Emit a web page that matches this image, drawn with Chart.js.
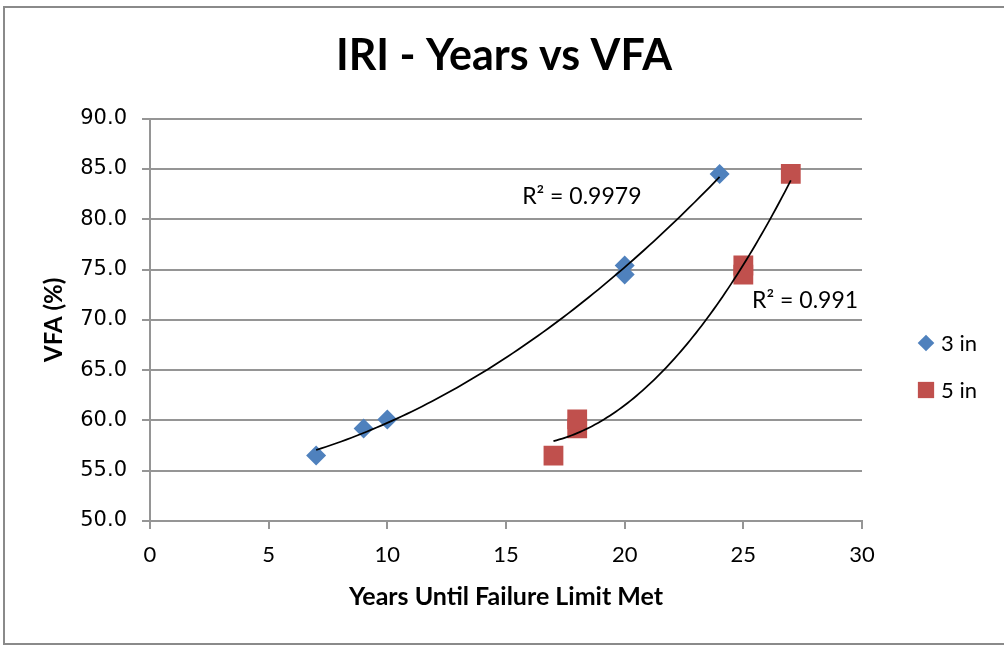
<!DOCTYPE html>
<html>
<head>
<meta charset="utf-8">
<title>IRI - Years vs VFA</title>
<script src="https://cdn.jsdelivr.net/npm/chart.js@4.4.1/dist/chart.umd.min.js"></script>
<style>
  html, body { margin: 0; padding: 0; background: #fff; }
  #wrap { position: relative; width: 1004px; height: 649px; }
</style>
</head>
<body>
<div id="wrap"><canvas id="vfaChart" width="1004" height="649"></canvas></div>
<script>
// values
const seriesNames = ['3 in', '5 in'];
const years3in = [7, 9, 10, 20, 20, 24];
const vfa3in = [56.5, 59.2, 60.1, 75.4, 74.5, 84.5];
const years5in = [17, 18, 18, 25, 25, 27];
const vfa5in = [56.5, 59.2, 60.1, 75.4, 74.5, 84.5];
const r2Labels = ['R² = 0.9979', 'R² = 0.991'];
const xTicks = [0, 5, 10, 15, 20, 25, 30];
const yTicks = [50, 55, 60, 65, 70, 75, 80, 85, 90];

// where the R² text sits, in axis units (left edge, baseline)
const r2Anchors = [{ x: 15.68, y: 81.54 }, { x: 25.37, y: 71.19 }];

const blue = '#4F81BD';
const red = '#C0504D';
const gridColor = '#959595';

function toPoints(xs, ys) {
    return xs.map((x, i) => ({ x: x, y: ys[i] }));
}

// least squares y = a + b*x + c*x^2 (Excel "polynomial, order 2" trendline)
function quadFit(xs, ys) {
    let n = xs.length, s1 = 0, s2 = 0, s3 = 0, s4 = 0, t0 = 0, t1 = 0, t2 = 0;
    for (let i = 0; i < n; i++) {
        const x = xs[i], y = ys[i];
        s1 += x; s2 += x * x; s3 += x * x * x; s4 += x * x * x * x;
        t0 += y; t1 += x * y; t2 += x * x * y;
    }
    const det3 = m => m[0][0] * (m[1][1] * m[2][2] - m[1][2] * m[2][1])
        - m[0][1] * (m[1][0] * m[2][2] - m[1][2] * m[2][0])
        + m[0][2] * (m[1][0] * m[2][1] - m[1][1] * m[2][0]);
    const M = [[n, s1, s2], [s1, s2, s3], [s2, s3, s4]];
    const T = [t0, t1, t2];
    const D = det3(M);
    return [0, 1, 2].map(col => det3(M.map((row, r) => row.map((v, c) => c === col ? T[r] : v))) / D);
}

// white background + grey frame round the whole chart
const framePlugin = {
    id: 'frame',
    beforeDraw(chart) {
        const ctx = chart.ctx;
        ctx.save();
        ctx.fillStyle = '#fff';
        ctx.fillRect(0, 0, chart.width, chart.height);
        ctx.strokeStyle = '#8a8a8a';
        ctx.lineWidth = 2;
        ctx.strokeRect(4, 7, chart.width + 10, 637);
        ctx.restore();
    }
};

// trendlines and their R² labels, drawn on top of the markers
const trendlinePlugin = {
    id: 'trendlines',
    afterDatasetsDraw(chart) {
        const { ctx, scales: { x, y } } = chart;
        ctx.save();
        chart.data.datasets.forEach((ds, i) => {
            const xs = ds.data.map(p => p.x);
            const ys = ds.data.map(p => p.y);
            const [a, b, c] = quadFit(xs, ys);
            const x0 = Math.min(...xs), x1 = Math.max(...xs);
            ctx.beginPath();
            for (let k = 0; k <= 80; k++) {
                const xv = x0 + (x1 - x0) * k / 80;
                const px = x.getPixelForValue(xv);
                const py = y.getPixelForValue(a + b * xv + c * xv * xv);
                if (k === 0) ctx.moveTo(px, py); else ctx.lineTo(px, py);
            }
            ctx.strokeStyle = '#000';
            ctx.lineWidth = 1.75;
            ctx.stroke();

            ctx.fillStyle = '#000';
            ctx.font = '23px Lato';
            ctx.textAlign = 'left';
            ctx.textBaseline = 'alphabetic';
            ctx.fillText(r2Labels[i], x.getPixelForValue(r2Anchors[i].x), y.getPixelForValue(r2Anchors[i].y));
        });
        ctx.restore();
    }
};

// legend on the right, Excel style
const legendPlugin = {
    id: 'sideLegend',
    afterDraw(chart) {
        const ctx = chart.ctx;
        const markX = chart.chartArea.right + 64;
        const rowY = [343, 390];
        const legendMarks = [
            { pointStyle: 'rectRot', radius: 8.3 },
            { pointStyle: 'rect', radius: 11.5 }
        ];
        ctx.save();
        chart.data.datasets.forEach((ds, i) => {
            ctx.fillStyle = ds.backgroundColor;
            Chart.helpers.drawPoint(ctx, { pointStyle: legendMarks[i].pointStyle, radius: legendMarks[i].radius, rotation: 0, borderWidth: 0 }, markX, rowY[i]);
            ctx.fillStyle = '#000';
            ctx.font = '22px Lato';
            ctx.textAlign = 'left';
            ctx.textBaseline = 'middle';
            ctx.fillText(ds.label, markX + 15, rowY[i] + 1);
        });
        ctx.restore();
    }
};

new Chart(document.getElementById('vfaChart'), {
    type: 'scatter',
    data: {
        datasets: [
            {
                label: seriesNames[0],
                data: toPoints(years3in, vfa3in),
                pointStyle: 'rectRot',
                pointRadius: 10,
                pointHoverRadius: 10,
                backgroundColor: blue,
                borderColor: blue,
                borderWidth: 0
            },
            {
                label: seriesNames[1],
                data: toPoints(years5in, vfa5in),
                pointStyle: 'rect',
                pointRadius: 14,
                pointHoverRadius: 14,
                backgroundColor: red,
                borderColor: red,
                borderWidth: 0
            }
        ]
    },
    options: {
        responsive: false,
        animation: false,
        layout: { padding: { left: 4, right: 0, top: 0, bottom: 30 } },
        plugins: {
            legend: { display: false },
            tooltip: { enabled: false },
            title: {
                display: true,
                text: 'IRI - Years vs VFA',
                color: '#000',
                font: { family: 'Lato', size: 43, weight: 'bold', lineHeight: 1.2 },
                padding: { top: 30, bottom: 37 }
            }
        },
        scales: {
            x: {
                type: 'linear',
                min: 0,
                max: 30,
                afterBuildTicks: s => { s.ticks = xTicks.map(v => ({ value: v })); },
                afterFit: s => { s.height = 98; },
                grid: { drawOnChartArea: false, color: gridColor, lineWidth: 2, tickLength: 8 },
                border: { color: gridColor, width: 2 },
                ticks: { color: '#000', font: { family: 'Lato', size: 22 }, padding: 13 },
                title: {
                    display: true,
                    text: 'Years Until Failure Limit Met',
                    color: '#000',
                    font: { family: 'Lato', size: 25, weight: 'bold' },
                    padding: { top: 0, bottom: 7 }
                }
            },
            y: {
                type: 'linear',
                min: 50,
                max: 90,
                afterBuildTicks: s => { s.ticks = yTicks.map(v => ({ value: v })); },
                afterFit: s => { s.width = 146; },
                grid: { color: gridColor, lineWidth: 2, tickLength: 8 },
                border: { color: gridColor, width: 2 },
                ticks: {
                    color: '#000',
                    font: { family: 'DejaVu Sans', size: 21 },
                    padding: 15,
                    callback: v => v.toFixed(1)
                },
                title: {
                    display: true,
                    text: 'VFA (%)',
                    color: '#000',
                    font: { family: 'Lato', size: 24, weight: 'bold' },
                    padding: { top: 36, bottom: 0 }
                }
            },
            // empty box on the right that keeps room for the legend
            legendSpace: {
                type: 'linear',
                position: 'right',
                display: true,
                grid: { display: false },
                border: { display: false },
                ticks: { display: false },
                afterFit: s => { s.width = 142; }
            }
        }
    },
    plugins: [framePlugin, trendlinePlugin, legendPlugin]
});
</script>
</body>
</html>
